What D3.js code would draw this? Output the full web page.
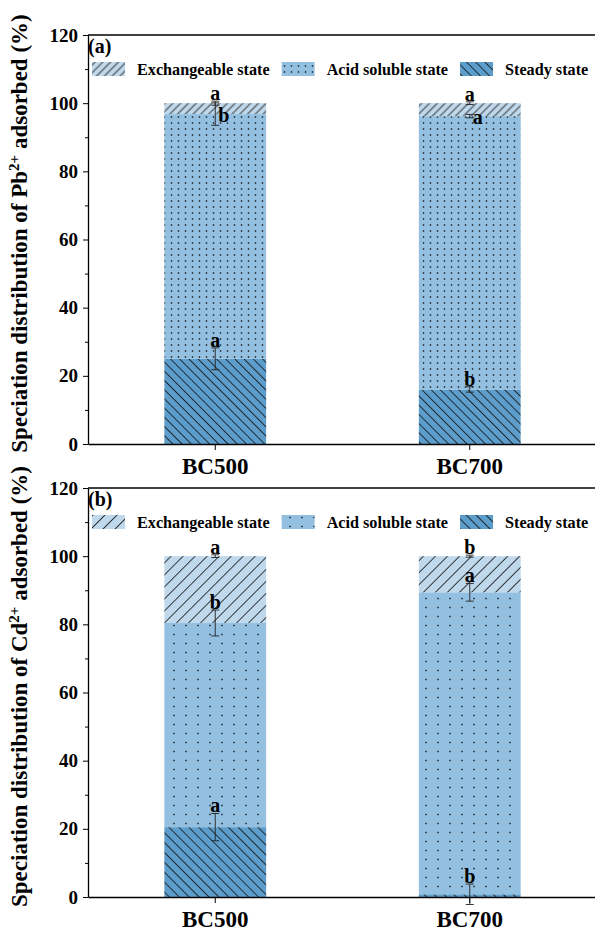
<!DOCTYPE html>
<html><head><meta charset="utf-8">
<script src="https://cdn.jsdelivr.net/npm/d3@7"></script>
<style>
body{margin:0;background:#fff}
svg{display:block}
text{font-family:"Liberation Serif",serif;font-weight:bold;fill:#000}
</style>
</head><body>
<svg id="c" width="595" height="931"></svg>
<script>
// ---------------- DATA ----------------
const categories = ["BC500", "BC700"];
const seriesNames = ["Exchangeable state", "Acid soluble state", "Steady state"];
const yTicks = [0, 20, 40, 60, 80, 100, 120];
const yMinorTicks = [10, 30, 50, 70, 90, 110];

// Panel (a) Pb2+
const pbSteady = [25.0, 16.0];
const pbAcid = [71.8, 80.2];
const pbExch = [3.2, 3.8];
const pbSteadyErr = [3.2, 0.8];
const pbAcidErr = [3.3, 0.5];
const pbExchErr = [0.6, 0.4];
const pbSteadySig = ["a", "b"];
const pbAcidSig = ["b", "a"];
const pbExchSig = ["a", "a"];

// Panel (b) Cd2+
const cdSteady = [20.5, 0.8];
const cdAcid = [59.9, 88.6];
const cdExch = [19.6, 10.6];
const cdSteadyErr = [4.0, 3.0];
const cdAcidErr = [3.8, 2.6];
const cdExchErr = [0.4, 0.3];
const cdSteadySig = ["a", "b"];
const cdAcidSig = ["b", "a"];
const cdExchSig = ["a", "b"];

// ---------------- STYLE ----------------
const colExch = "#bfd8ec";
const colAcid = "#93bfe0";
const colSteady = "#5d9dcb";

const svg = d3.select("#c");
const defs = svg.append("defs");

function makePatterns(id, p) {
  const pe = defs.append("pattern").attr("id", "exch" + id)
    .attr("patternUnits", "userSpaceOnUse").attr("width", p.exch).attr("height", p.exch)
    .attr("patternTransform", "rotate(45)");
  pe.append("rect").attr("width", p.exch).attr("height", p.exch).attr("fill", colExch);
  pe.append("line").attr("x1", p.exch / 2).attr("x2", p.exch / 2).attr("y1", 0).attr("y2", p.exch)
    .attr("stroke", "#111").attr("stroke-width", 0.8);
  const pa = defs.append("pattern").attr("id", "acid" + id)
    .attr("patternUnits", "userSpaceOnUse").attr("width", p.dx).attr("height", p.dy);
  pa.append("rect").attr("width", p.dx).attr("height", p.dy).attr("fill", colAcid);
  pa.append("rect").attr("x", p.dx / 2 - 0.7).attr("y", p.dy / 2 - 0.7).attr("width", 1.4).attr("height", 1.4).attr("fill", "#111");
  const ps = defs.append("pattern").attr("id", "steady" + id)
    .attr("patternUnits", "userSpaceOnUse").attr("width", p.steady).attr("height", p.steady)
    .attr("patternTransform", "rotate(-45)");
  ps.append("rect").attr("width", p.steady).attr("height", p.steady).attr("fill", colSteady);
  ps.append("line").attr("x1", p.steady / 2).attr("x2", p.steady / 2).attr("y1", 0).attr("y2", p.steady)
    .attr("stroke", "#111").attr("stroke-width", 0.8);
}

function drawPanel(cfg) {
  const { id, top, bottom, left, right, tag, ion, steady, acid, exch, errs, sigs, pat } = cfg;
  makePatterns(id, pat);
  const g = svg.append("g");
  const x = d3.scaleBand().domain(categories).range([left, right + 2]).paddingInner(0.6).paddingOuter(0.3);
  const y = d3.scaleLinear().domain([0, 120]).range([bottom, top]);

  const rows = categories.map((c, i) => ({ cat: c, steady: steady[i], acid: acid[i], exch: exch[i] }));
  const keys = ["steady", "acid", "exch"];
  const fills = { steady: "url(#steady" + id + ")", acid: "url(#acid" + id + ")", exch: "url(#exch" + id + ")" };
  const stack = d3.stack().keys(keys)(rows);

  g.selectAll("g.layer").data(stack).join("g").attr("class", "layer")
    .attr("fill", d => fills[d.key])
    .selectAll("rect").data(d => d).join("rect")
    .attr("x", d => x(d.data.cat))
    .attr("width", x.bandwidth())
    .attr("y", d => y(d[1]))
    .attr("height", d => y(d[0]) - y(d[1]));

  const yAxis = d3.axisLeft(y).tickValues(yTicks).tickSize(5).tickSizeOuter(0).tickPadding(5);
  const ya = g.append("g").attr("transform", `translate(${left},0)`).call(yAxis);
  ya.select(".domain").attr("stroke-width", 1.3);
  ya.selectAll("text").style("font-size", "19px");
  g.append("g").attr("transform", `translate(${left},0)`)
    .call(d3.axisLeft(y).tickValues(yMinorTicks).tickSize(3).tickFormat(""))
    .select(".domain").remove();

  const xAxis = d3.axisBottom(x).tickSize(6).tickSizeOuter(0).tickPadding(5);
  const xa = g.append("g").attr("transform", `translate(0,${bottom})`).call(xAxis);
  xa.select(".domain").attr("stroke-width", 1.3);
  xa.selectAll("text").style("font-size", "23px").attr("dy", "0.82em");

  g.append("line").attr("x1", left).attr("x2", 595).attr("y1", top).attr("y2", top)
    .attr("stroke", "#000").attr("stroke-width", 1.3);

  const errG = g.append("g");
  stack.forEach(layer => {
    const k = layer.key;
    layer.forEach((d, i) => {
      const cx = x(d.data.cat) + x.bandwidth() / 2;
      const v = d[1], e = errs[k][i];
      errG.append("line").attr("x1", cx).attr("x2", cx).attr("y1", y(v + e)).attr("y2", y(v - e))
        .attr("stroke", "#222").attr("stroke-width", 0.9);
      [v + e, v - e].forEach(t => errG.append("line").attr("x1", cx - 4).attr("x2", cx + 4)
        .attr("y1", y(t)).attr("y2", y(t)).attr("stroke", "#222").attr("stroke-width", 0.9));
      const idx = keys.indexOf(k);
      const above = idx < keys.length - 1 ? rows[i][keys[idx + 1]] : 99;
      const t = errG.append("text").text(sigs[k][i]).style("font-size", "20px");
      if (above < 6) {
        t.attr("x", cx + 3).attr("y", y(v) + 8).attr("text-anchor", "start");
      } else {
        t.attr("x", cx).attr("y", y(v + e) - 1).attr("text-anchor", "middle");
      }
    });
  });

  g.append("text").attr("x", left).attr("y", top + 18).style("font-size", "20px").text(tag);

  const lg = g.append("g").attr("transform", `translate(${left + 4},${top + 34})`);
  let lx = 0;
  const legendKeys = ["exch", "acid", "steady"];
  seriesNames.forEach((name, i) => {
    lg.append("rect").attr("x", lx).attr("y", -7).attr("width", 33).attr("height", 14)
      .attr("fill", fills[legendKeys[i]]);
    const tx = lg.append("text").attr("x", lx + 45).attr("y", 6).style("font-size", "16.2px").text(name);
    lx += 45 + tx.node().getComputedTextLength() + 12;
  });

  const yt = g.append("text").attr("text-anchor", "middle")
    .attr("transform", `translate(27,${(top + bottom) / 2 - 6}) rotate(-90)`)
    .style("font-size", "23px");
  yt.append("tspan").text("Speciation distribution of " + ion);
  yt.append("tspan").attr("baseline-shift", "super").style("font-size", "15px").text("2+");
  yt.append("tspan").text(" adsorbed (%)");
}

drawPanel({
  id: "a", top: 35, bottom: 444, left: 88, right: 595, tag: "(a)", ion: "Pb",
  steady: pbSteady, acid: pbAcid, exch: pbExch,
  errs: { steady: pbSteadyErr, acid: pbAcidErr, exch: pbExchErr },
  sigs: { steady: pbSteadySig, acid: pbAcidSig, exch: pbExchSig },
  pat: { exch: 5.5, steady: 6.5, dx: 7, dy: 6 }
});
drawPanel({
  id: "b", top: 488, bottom: 897, left: 88, right: 595, tag: "(b)", ion: "Cd",
  steady: cdSteady, acid: cdAcid, exch: cdExch,
  errs: { steady: cdSteadyErr, acid: cdAcidErr, exch: cdExchErr },
  sigs: { steady: cdSteadySig, acid: cdAcidSig, exch: cdExchSig },
  pat: { exch: 8.5, steady: 7, dx: 12, dy: 9 }
});
</script>
</body></html>
